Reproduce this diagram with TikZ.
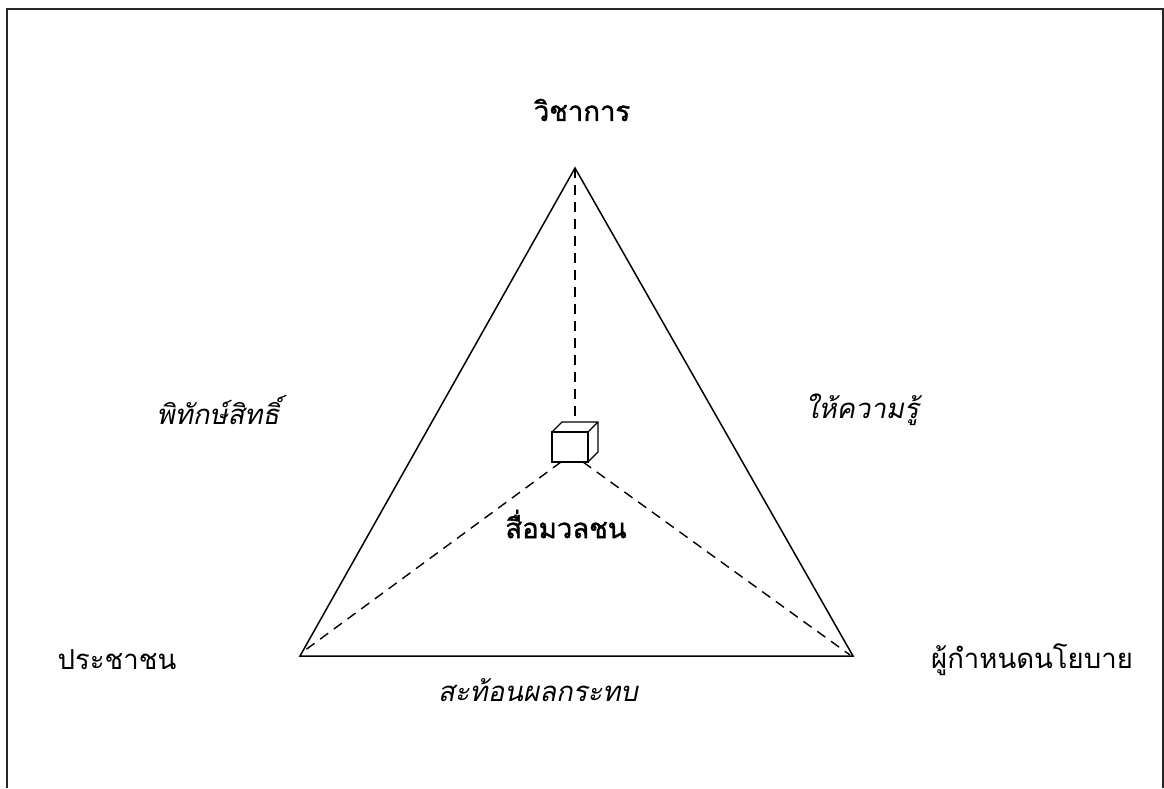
\documentclass[tikz,border=0pt]{standalone}
\usepackage{fontspec}
\newfontfamily\thai[Script=Thai]{Loma}
\newfontfamily\thaiit[Script=Thai,FakeSlant=0.2]{Loma}
\newfontfamily\thaibf[Script=Thai,FakeBold=1.5]{Loma}
\begin{document}
\begin{tikzpicture}[x=1pt,y=-1pt,
  frame/.style={line width=1.6pt,black!85},
  tri/.style={line width=1.5pt},
  dashline/.style={line width=1.4pt,dash pattern=on 10pt off 7pt},
  lbl/.style={inner sep=0pt,font=\thai\fontsize{27.5}{32}\selectfont},
  lblit/.style={inner sep=0pt,font=\thaiit\fontsize{27.5}{32}\selectfont},
  lblbf/.style={inner sep=0pt,font=\thaibf\fontsize{27.5}{32}\selectfont}]
\useasboundingbox (0,0) rectangle (1164,788);
% frame
\draw[frame] (7,788) -- (7,9) -- (1163,9) -- (1163,788);
% triangle corners
\coordinate (A) at (575,168);
\coordinate (B) at (300,656);
\coordinate (C) at (853,656);
\draw[tri,line join=miter] (A) -- (B) -- (C) -- cycle;
% cube
\coordinate (f1) at (552,432);
\coordinate (f2) at (588,432);
\coordinate (f3) at (588,462);
\coordinate (f4) at (552,462);
\coordinate (b1) at (562,422);
\coordinate (b2) at (598,422);
\coordinate (b3) at (598,452);
\draw[line width=1.3pt,fill=white] (f1) -- (f2) -- (f3) -- (f4) -- cycle;
\draw[line width=1.3pt,line join=round] (f1) -- (b1) -- (b2) -- (f2);
\draw[line width=1.3pt,line join=round] (b2) -- (b3) -- (f3);
% dashed connectors
\coordinate (ct) at (575,422);
\coordinate (cl) at (561,462);
\coordinate (cr) at (583,462);
\coordinate (Bd) at (304,651);
\coordinate (Cd) at (850,655);
\draw[dashline] (A) -- (ct);
\draw[dashline] (cl) -- (Bd);
\draw[dashline] (cr) -- (Cd);
% labels
\node[lblbf] (top) at (582,110) {วิชาการ};
\node[lblit] (left) at (218,410) {พิทักษ์สิทธิ์};
\node[lblit] (right) at (862,410) {ให้ความรู้};
\node[lblbf] (media) at (566,524) {สื่อมวลชน};
\node[lbl] (people) at (117,660) {ประชาชน};
\node[lbl] (policy) at (1032,660) {ผู้กำหนดนโยบาย};
\node[lblit] (bottom) at (538,690) {สะท้อนผลกระทบ};
\end{tikzpicture}
\end{document}
